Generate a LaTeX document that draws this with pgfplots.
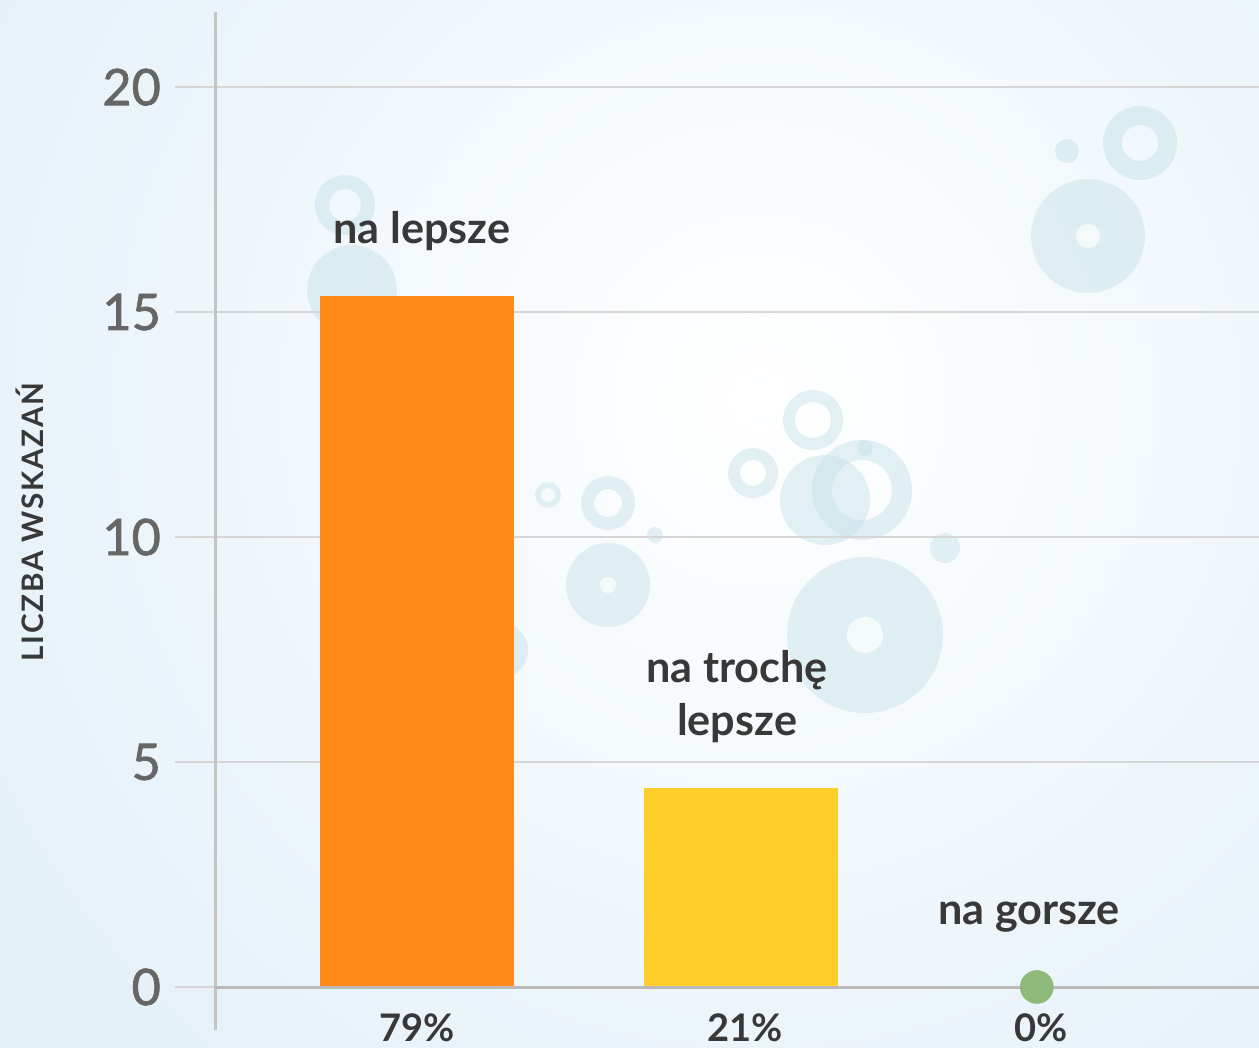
\documentclass[border=0pt]{standalone}
\usepackage{pgfplots}
\pgfplotsset{compat=1.18}
\usepackage{fontspec}
\setmainfont{Lato}
\newfontfamily\tickfont{Lato}[FakeBold=1.3]
\definecolor{barorange}{HTML}{FF8A1A}
\definecolor{baryellow}{HTML}{FDCD2A}
\definecolor{dotgreen}{HTML}{8DB97A}
\definecolor{txt}{HTML}{383838}
\definecolor{ticktxt}{HTML}{666666}
\definecolor{gridc}{HTML}{D6D6D6}
\definecolor{axisc}{HTML}{C4C4C4}
\definecolor{basec}{HTML}{BABABA}
\definecolor{bgblue}{HTML}{CFE5F2}
\definecolor{bub}{HTML}{C3E1E8}
\newcommand{\ring}[4]{\fill[bub,opacity=0.45,even odd rule] (#1,#2) circle (#3) (#1,#2) circle (#4);}
\newcommand{\disc}[3]{\fill[bub,opacity=0.45] (#1,#2) circle (#3);}
\newcommand{\spot}[3]{\fill[white,opacity=0.7] (#1,#2) circle (#3);}
\begin{document}
\begin{tikzpicture}
\useasboundingbox (0,0) rectangle (314.75pt,-261.75pt);
\begin{scope}[x=0.25pt,y=-0.25pt]
\clip (0,0) rectangle (1259,1047);
\shade[inner color=white, outer color=bgblue] (760,400) circle (1600);
\disc{1088}{236}{57}\spot{1088}{236}{12}
\ring{1140}{143}{37}{18}
\disc{1067}{151}{12}
\ring{345}{205}{30}{16}
\disc{352}{290}{45}
\disc{500}{650}{28}
\ring{813}{420}{30}{18}
\ring{862}{490}{50}{30}
\disc{825}{500}{45}
\ring{753}{473}{25}{13}
\ring{608}{503}{27}{14}
\disc{608}{585}{42}\spot{608}{585}{8}
\ring{548}{495}{13}{7}
\disc{655}{535}{8}
\disc{865}{635}{78}\spot{865}{635}{18}
\disc{945}{548}{15}
\disc{865}{448}{8}
\end{scope}
\begin{axis}[
  at={(53.75pt,-257.5pt)}, anchor=south west,
  scale only axis, width=261pt, height=254.5pt,
  xmin=-0.6235, xmax=2.599, ymin=-0.956, ymax=21.67,
  axis y line*=left, axis x line=none,
  xtick=\empty,
  ytick={0,5,10,15,20},
  tick align=outside, major tick length=10pt,
  ymajorgrids,
  major grid style={gridc, line width=0.5pt},
  y axis line style={axisc, line width=0.75pt},
  ytick style={gridc, line width=0.5pt},
  yticklabel style={font=\tickfont\fontsize{12.6}{13}\selectfont, text=ticktxt},
  /pgf/number format/assume math mode=true,
  clip=false,
]
\addplot[ybar, bar width=48.5pt, bar shift=0pt, fill=barorange, draw=none] coordinates {(0,15.35)};
\addplot[ybar, bar width=48.5pt, bar shift=0pt, fill=baryellow, draw=none] coordinates {(1,4.42)};
\draw[basec, line width=0.75pt] (axis cs:-0.6235,0) -- (axis cs:2.599,0);
\addplot[only marks, mark=*, mark size=4pt, dotgreen] coordinates {(1.913,0)};
\node[anchor=base, font=\bfseries\fontsize{10.8}{12}\selectfont, text=txt] at (axis cs:0.015,16.53) {na lepsze};
\node[anchor=base, font=\bfseries\fontsize{10.8}{12}\selectfont, text=txt] at (axis cs:0.988,6.76) {na trochę};
\node[anchor=base, font=\bfseries\fontsize{10.8}{12}\selectfont, text=txt] at (axis cs:0.988,5.6) {lepsze};
\node[anchor=base, font=\bfseries\fontsize{10.8}{12}\selectfont, text=txt] at (axis cs:1.889,1.38) {na gorsze};
\node[anchor=base, font=\bfseries\fontsize{9.5}{11}\selectfont, text=txt] at (axis cs:0,-1.22) {79\%};
\node[anchor=base, font=\bfseries\fontsize{9.5}{11}\selectfont, text=txt] at (axis cs:1.012,-1.22) {21\%};
\node[anchor=base, font=\bfseries\fontsize{9.5}{11}\selectfont, text=txt] at (axis cs:1.926,-1.22) {0\%};
\end{axis}
\node[rotate=90, font=\bfseries\fontsize{7.4}{8}\selectfont\addfontfeatures{LetterSpace=6}, text=txt] at (7.5pt,-130.5pt) {LICZBA WSKAZAŃ};
\end{tikzpicture}
\end{document}
